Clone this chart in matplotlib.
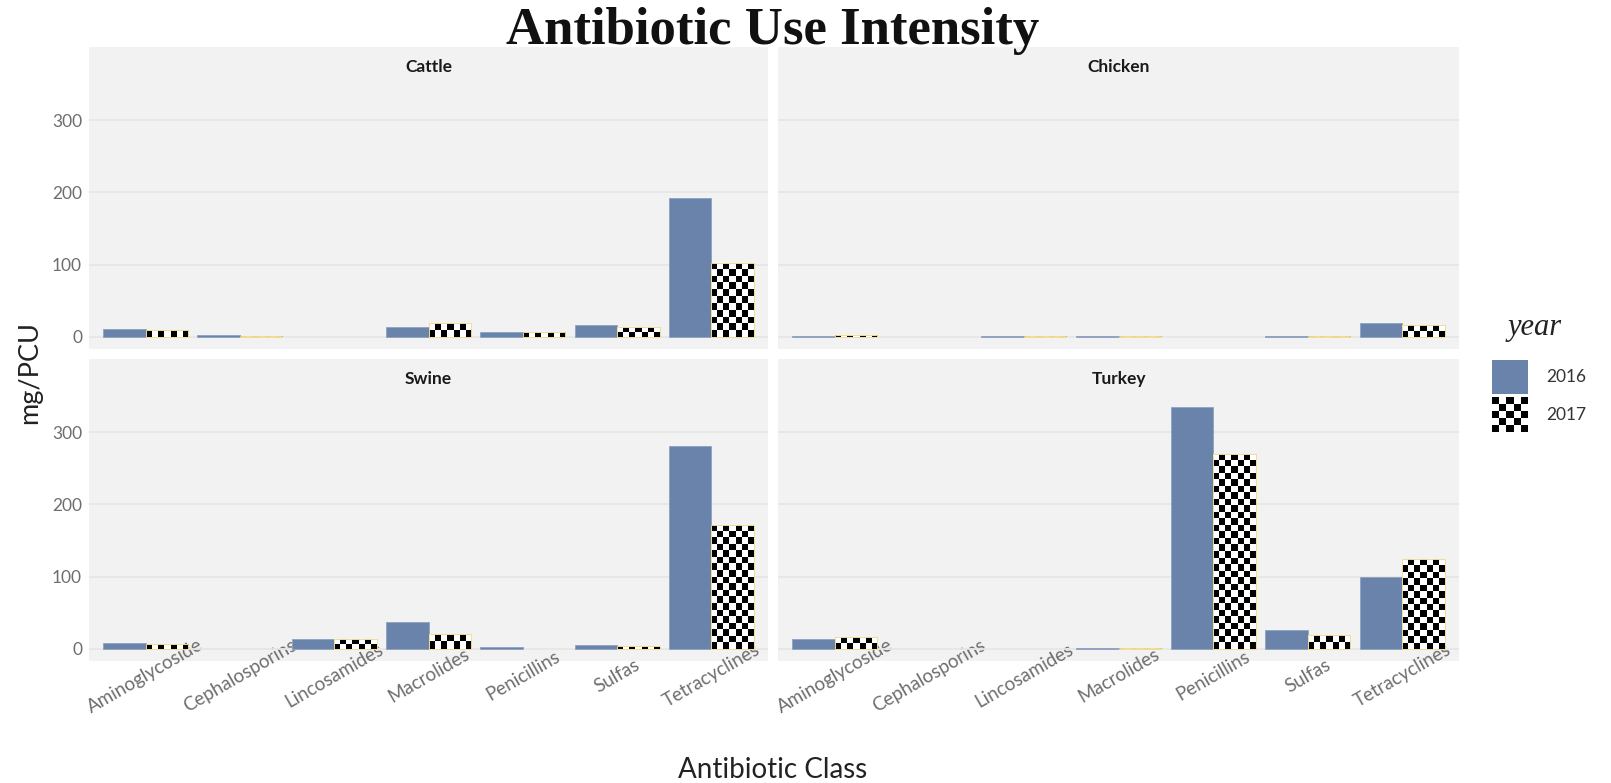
import numpy as np
import matplotlib
matplotlib.use("Agg")
import matplotlib.pyplot as plt
from matplotlib.colors import ListedColormap

# data (mg/PCU)
classes = ["Aminoglycoside", "Cephalosporins", "Lincosamides", "Macrolides",
           "Penicillins", "Sulfas", "Tetracyclines"]
species = ["Cattle", "Chicken", "Swine", "Turkey"]
years = ["2016", "2017"]

cattle_2016 = [11.5, 3, 0, 14, 7, 16.5, 192]
cattle_2017 = [9, 2, 0, 20, 7, 14, 103]
chicken_2016 = [2, 0, 1.5, 2, 0, 1.5, 19]
chicken_2017 = [3, 0, 2, 2, 0, 2, 16]
swine_2016 = [8, 0, 14, 38, 3, 5, 281]
swine_2017 = [7, 0, 14, 21, 0, 3.5, 172]
turkey_2016 = [14, 0, 0, 2, 334, 26, 99]
turkey_2017 = [16, 0, 0, 2, 270, 19, 124]

values = {
    "Cattle": (cattle_2016, cattle_2017),
    "Chicken": (chicken_2016, chicken_2017),
    "Swine": (swine_2016, swine_2017),
    "Turkey": (turkey_2016, turkey_2017),
}

BLUE = "#6a83ab"
PANEL = "#f2f2f2"
GRID = "#e6e6e6"
TICK = "#6e6e6e"
SANS = "Lato"
SERIF = "Liberation Serif"
CELL = 6.5  # checker cell size, pixels
checker_cmap = ListedColormap(["white", "black"])

W, H = 1611, 783
fig = plt.figure(figsize=(W / 100, H / 100), dpi=100)


def frac_rect(x0, y0, x1, y1):
    # pixel box (top-left origin) -> figure fraction rect
    return [x0 / W, 1 - y1 / H, (x1 - x0) / W, (y1 - y0) / H]


def checker(nx, ny):
    ii, jj = np.meshgrid(np.arange(nx), np.arange(ny))
    return ((ii + jj) % 2 == 0).astype(float)


def checker_fill(ax, patch):
    x0, y0 = patch.get_x(), patch.get_y()
    x1, y1 = x0 + patch.get_width(), y0 + patch.get_height()
    (px0, py0), (px1, py1) = ax.transData.transform([[x0, y0], [x1, y1]])
    nx = max(1, int(round(abs(px1 - px0) / CELL)))
    ny = max(1, int(round(abs(py1 - py0) / CELL)))
    im = ax.imshow(checker(nx, ny), cmap=checker_cmap, vmin=0, vmax=1,
                   interpolation="nearest", aspect="auto", origin="lower",
                   extent=(x0, x1, y0, y1), zorder=2)
    im.set_clip_path(patch)


boxes = {
    "Cattle": (89, 47, 768, 349),
    "Chicken": (778, 47, 1459, 349),
    "Swine": (89, 359, 768, 661),
    "Turkey": (778, 359, 1459, 661),
}

x = np.arange(len(classes))
bw = 0.45
for k, sp in enumerate(species):
    ax = fig.add_axes(frac_rect(*boxes[sp]))
    ax.set_facecolor(PANEL)
    for s in ax.spines.values():
        s.set_visible(False)
    ax.set_xlim(-0.6, len(classes) - 0.4)
    ax.set_ylim(-16.6, 401)
    ax.set_yticks([0, 100, 200, 300])
    ax.yaxis.grid(True, color=GRID, lw=1.3)
    ax.set_axisbelow(True)
    ax.tick_params(length=0)

    v16, v17 = values[sp]
    ax.bar(x - bw / 2, v16, width=bw, color=BLUE, edgecolor="#8fa2c3",
           linewidth=[0.6 if v > 0 else 0 for v in v16], zorder=2)
    bars = ax.bar(x + bw / 2, v17, width=bw, color="none",
                  edgecolor="#f1dc92",
                  linewidth=[0.7 if v > 0 else 0 for v in v17], zorder=3)
    for b, v in zip(bars, v17):
        if v > 0:
            checker_fill(ax, b)
    ax.set_xlim(-0.6, len(classes) - 0.4)
    ax.set_ylim(-16.6, 401)

    ax.text(0.5, 1 - 20 / 302, sp, transform=ax.transAxes, ha="center",
            va="center", fontsize=12.5, fontweight="bold", family=SANS,
            color="#1a1a1a")

    ax.set_xticks(x)
    if k >= 2:
        ax.set_xticklabels(classes, rotation=30, ha="center", va="center",
                           rotation_mode="anchor", fontsize=13.5,
                           family=SANS, color=TICK)
        ax.tick_params(axis="x", pad=10.5)
    else:
        ax.set_xticklabels([])
    if k % 2 == 0:
        ax.set_yticklabels(["0", "100", "200", "300"], fontsize=12.5,
                           family=SANS, color=TICK)
        ax.tick_params(axis="y", pad=5)
    else:
        ax.set_yticklabels([])

fig.text(773 / W, 1 - 44 / H, "Antibiotic Use Intensity", ha="center",
         va="baseline", fontsize=38, fontweight="bold", family=SERIF,
         color="#111111")
fig.text(773 / W, 1 - 770 / H, "Antibiotic Class", ha="center", va="center",
         fontsize=20, family=SANS, color="#222222")
fig.text(30 / W, 1 - 373 / H, "mg/PCU", ha="center", va="center",
         rotation=90, fontsize=19.5, family=SANS, color="#222222")

# legend
fig.text(1508 / W, 1 - 327 / H, "year", ha="left", va="center",
         fontsize=22, style="italic", family=SERIF, color="#222222")
k16 = fig.add_axes(frac_rect(1492, 360, 1528, 394))
k16.set_facecolor(BLUE)
k17 = fig.add_axes(frac_rect(1492, 397, 1528, 432))
k17.imshow(checker(5, 5), cmap=checker_cmap, vmin=0, vmax=1,
           interpolation="nearest", aspect="auto")
for kax in (k16, k17):
    kax.set_xticks([])
    kax.set_yticks([])
    for s in kax.spines.values():
        s.set_visible(False)
fig.text(1546 / W, 1 - 377 / H, years[0], ha="left", va="center",
         fontsize=12.5, family=SANS, color="#333333")
fig.text(1546 / W, 1 - 415 / H, years[1], ha="left", va="center",
         fontsize=12.5, family=SANS, color="#333333")

fig.savefig("out.png", dpi=100, facecolor="white")
